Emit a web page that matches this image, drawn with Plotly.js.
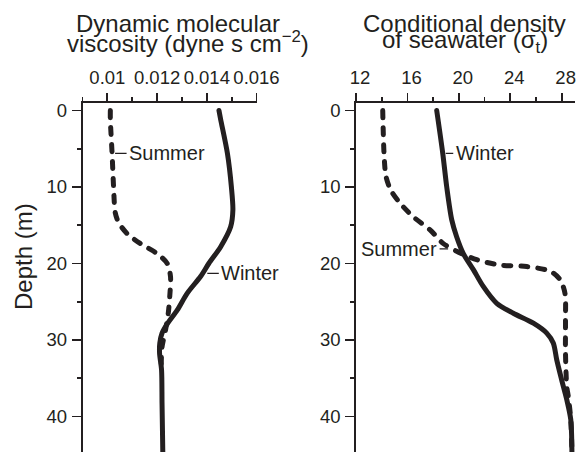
<!DOCTYPE html>
<html>
<head>
<meta charset="utf-8">
<script src="https://cdn.plot.ly/plotly-3.0.1.min.js"></script>
<style>
  html, body { margin: 0; padding: 0; background: #fff; }
  #chart { width: 579px; height: 452px; }
  .scatterlayer .js-line { stroke-linecap: round; stroke-linejoin: round; }
</style>
</head>
<body>
<div id="chart"></div>
<script>
// Depth profiles (m) for the two seasons

// Dynamic molecular viscosity (dyne s cm^-2)
const viscSummerDepth = [0, 1.2, 5.6, 10, 13.4, 14.7, 16.1, 17.4, 18.7, 20, 21.7, 24.3, 26.5, 28.7, 30.9, 33, 34];
const viscSummer      = [0.01012, 0.01012, 0.01019, 0.01025, 0.01032, 0.01046, 0.0108, 0.01133, 0.0120, 0.01241, 0.01254, 0.01251, 0.01245, 0.01234, 0.0122, 0.01217, 0.01218];
const viscWinterDepth = [0, 1.2, 5.6, 10, 13, 15.2, 17.8, 20, 21.7, 23.9, 26.1, 27.9, 29.1, 30.4, 31.7, 33.9, 38.3, 44.6];
const viscWinter      = [0.01449, 0.01456, 0.01483, 0.01499, 0.01505, 0.01496, 0.01456, 0.01408, 0.01375, 0.01321, 0.01281, 0.01241, 0.0122, 0.01211, 0.0121, 0.01218, 0.0122, 0.01223];

// Conditional density of seawater (sigma-t)
const sigmaSummerDepth = [0, 5.6, 8.6, 10.4, 12.1, 13.9, 15.6, 17.4, 18.4, 19.5, 20.2, 20.4, 21, 22.1, 23.9, 27.3, 31.7, 36.1, 37.4, 40.4, 44.6];
const sigmaSummer      = [14.08, 14.18, 14.33, 14.7, 15.42, 16.46, 17.76, 18.8, 19.83, 21.39, 23.2, 25.28, 27.1, 27.88, 28.26, 28.3, 28.3, 28.4, 28.52, 28.71, 28.8];
const sigmaWinterDepth = [0, 5.6, 10, 14.3, 16.5, 18.7, 20.8, 23, 25.2, 26.5, 27.8, 29.1, 30.4, 32.6, 35.2, 37.8, 40.4, 44.6];
const sigmaWinter      = [18.28, 18.75, 19.06, 19.45, 19.83, 20.35, 21.13, 21.9, 22.95, 24.24, 25.8, 26.84, 27.35, 27.62, 28.0, 28.4, 28.71, 28.8];

// Tick labels
const depthTicks = [0, 10, 20, 30, 40];
const depthTickText = ['0', '10', '20', '30', '40'];
const viscTicks = [0.01, 0.012, 0.014, 0.016];
const viscTickText = ['0.01', '0.012', '0.014', '0.016'];
const sigmaTicks = [12, 16, 20, 24, 28];
const sigmaTickText = ['12', '16', '20', '24', '28'];

const seasonNames = ['Summer', 'Winter'];

const ink = '#231f20';
const family = '"Liberation Sans", Arial, Helvetica, sans-serif';
const W = 579, H = 452;
const px = v => v / W;
const py = v => 1 - v / H;

const solid = { color: ink, width: 5, shape: 'spline', smoothing: 0.8 };
const dashed = { color: ink, width: 5, shape: 'spline', smoothing: 0.8, dash: '7px,10px' };

const traces = [
  { x: viscWinter, y: viscWinterDepth, xaxis: 'x', yaxis: 'y', mode: 'lines', line: solid, name: seasonNames[1] },
  { x: viscSummer, y: viscSummerDepth, xaxis: 'x', yaxis: 'y', mode: 'lines', line: dashed, name: seasonNames[0] },
  { x: sigmaWinter, y: sigmaWinterDepth, xaxis: 'x2', yaxis: 'y2', mode: 'lines', line: solid, name: seasonNames[1] },
  { x: sigmaSummer, y: sigmaSummerDepth, xaxis: 'x2', yaxis: 'y2', mode: 'lines', line: dashed, name: seasonNames[0] }
];

const depthRange = [44.64, -0.98];

function xAxis(domain, range, tickvals, ticktext, minorStart, minorStep, anchor, shift) {
  return {
    domain: domain, range: range, side: 'top', anchor: anchor,
    tickmode: 'array', tickvals: tickvals, ticktext: ticktext,
    ticks: 'outside', ticklen: 8, tickwidth: 1.8, tickcolor: ink,
    ticklabelshift: shift, ticklabelstandoff: 2,
    showline: true, linewidth: 1.8, linecolor: ink,
    showgrid: false, zeroline: false, fixedrange: true,
    tickfont: { family: family, size: 18.5, color: ink },
    minor: { tickmode: 'linear', tick0: minorStart, dtick: minorStep, ticks: 'outside', ticklen: 4, tickwidth: 1.8, tickcolor: ink, showgrid: false }
  };
}

function yAxis(anchor) {
  return {
    domain: [0, (H - 103) / H], range: depthRange, anchor: anchor, side: 'left',
    tickmode: 'array', tickvals: depthTicks, ticktext: depthTickText,
    ticks: 'outside', ticklen: 9, tickwidth: 1.8, tickcolor: ink,
    ticklabelstandoff: 1,
    showline: true, linewidth: 1.8, linecolor: ink,
    showgrid: false, zeroline: false, fixedrange: true,
    tickfont: { family: family, size: 18.5, color: ink },
    minor: { tickmode: 'linear', tick0: 0, dtick: 5, ticks: 'outside', ticklen: 4, tickwidth: 1.8, tickcolor: ink, showgrid: false }
  };
}

function titleLine(text, cx, cy, size) {
  return { xref: 'paper', yref: 'paper', x: px(cx), y: py(cy), xanchor: 'center', yanchor: 'middle',
           text: text, showarrow: false, font: { family: family, size: size, color: ink } };
}

function curveLabel(text, xr, yr, x, y, ax, ay) {
  return { xref: xr, yref: yr, x: x, y: y, ax: ax, ay: ay, text: text,
           showarrow: true, arrowhead: 0, arrowwidth: 1.2, arrowcolor: ink, standoff: 3, borderpad: 2,
           font: { family: family, size: 20, color: ink } };
}

const annotations = [
  titleLine('Dynamic molecular', 178, 23.5, 24),
  titleLine('viscosity (dyne s cm<sup>\u22122</sup>)', 188, 41.5, 24),
  titleLine('Conditional density', 464, 23.5, 24),
  titleLine('of seawater (\u03c3<sub>t</sub>)', 464.5, 41.5, 24),
  Object.assign(titleLine('Depth (m)', 23, 257, 24), { textangle: -90 }),
  curveLabel(seasonNames[0], 'x', 'y', viscSummer[2], viscSummerDepth[2], 55, 0),
  curveLabel(seasonNames[1], 'x', 'y', 0.0139, 21.3, 46, 0),
  curveLabel(seasonNames[1], 'x2', 'y2', sigmaWinter[1], sigmaWinterDepth[1], 42, 0),
  curveLabel(seasonNames[0], 'x2', 'y2', 19.4, 18.1, -52, 0)
];

const layout = {
  width: W, height: H,
  margin: { l: 0, r: 0, t: 0, b: 0, pad: 0 },
  paper_bgcolor: '#ffffff', plot_bgcolor: 'rgba(0,0,0,0)',
  showlegend: false,
  font: { family: family, color: ink, size: 18.5 },
  xaxis: xAxis([82.5 / W, 256.5 / W], [0.009, 0.016], viscTicks, viscTickText, 0.009, 0.001, 'y', 0),
  yaxis: yAxis('x'),
  xaxis2: xAxis([356 / W, 575 / W], [12, 29.04], sigmaTicks, sigmaTickText, 12, 2, 'y2', 4),
  yaxis2: yAxis('x2'),
  annotations: annotations
};

Plotly.newPlot('chart', traces, layout, { displayModeBar: false, staticPlot: true });
</script>
</body>
</html>
